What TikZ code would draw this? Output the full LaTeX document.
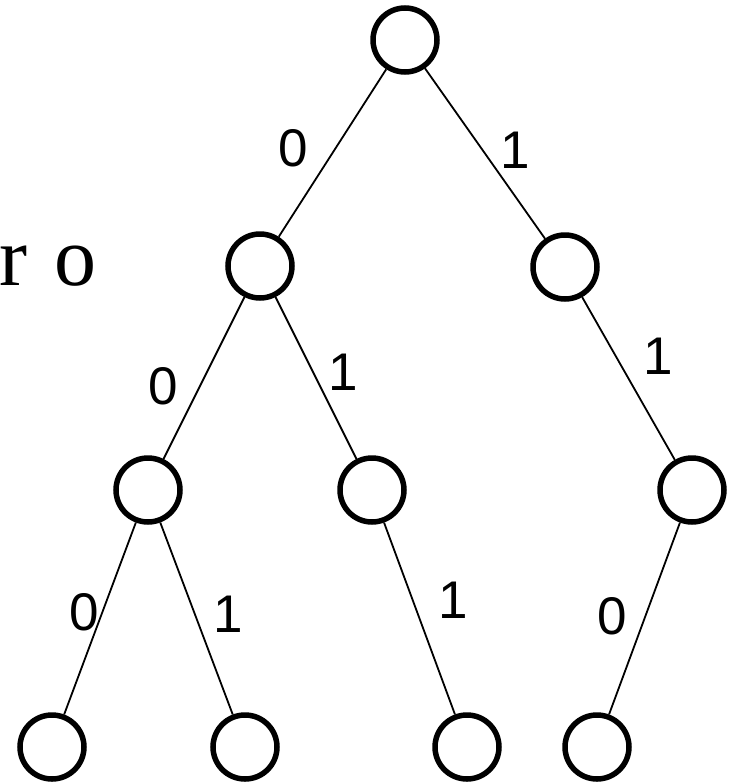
\documentclass[tikz,border=0pt]{standalone}
\usepackage{fontspec}
\setmainfont{Liberation Serif}
\newfontfamily\digitfont{Liberation Sans}
\begin{document}
\begin{tikzpicture}[x=1pt,y=-1pt,
  vertex/.style={circle, draw=black, line width=5.5pt, minimum size=64pt, inner sep=0pt},
  branch/.style={line width=1.8pt},
  bit/.style={font=\digitfont\fontsize{53}{60}\selectfont, inner sep=0pt},
  side/.style={font=\fontsize{84}{90}\selectfont, inner sep=0pt, anchor=base west}]
\useasboundingbox (0,0) rectangle (732,782);

% tree vertices
\node[vertex] (r)  at (405,40)  {};
\node[vertex] (a)  at (260,266) {};
\node[vertex] (b)  at (565,267) {};
\node[vertex] (c)  at (148,490) {};
\node[vertex] (d)  at (372,490) {};
\node[vertex] (e)  at (692,490) {};
\node[vertex] (f)  at (52,747)  {};
\node[vertex] (g)  at (245,747) {};
\node[vertex] (h)  at (467,747) {};
\node[vertex] (i)  at (597,747) {};

% branches
\draw[branch] (r) -- (a);
\draw[branch] (r) -- (b);
\draw[branch] (a) -- (c);
\draw[branch] (a) -- (d);
\draw[branch] (b) -- (e);
\draw[branch] (c) -- (f);
\draw[branch] (c) -- (g);
\draw[branch] (d) -- (h);
\draw[branch] (e) -- (i);

% branch bits
\node[bit] (ra) at (293,148) {0};
\node[bit] (rb) at (515,150) {1};
\node[bit] (ac) at (163,386) {0};
\node[bit] (ad) at (343,372) {1};
\node[bit] (be) at (658,356) {1};
\node[bit] (cf) at (84,612)  {0};
\node[bit] (cg) at (228,614) {1};
\node[bit] (dh) at (453,600) {1};
\node[bit] (ei) at (612,616) {0};

% side text
\node[side] (txt) at (-1,285) {r\hspace{0.07em} o};
\end{tikzpicture}
\end{document}
